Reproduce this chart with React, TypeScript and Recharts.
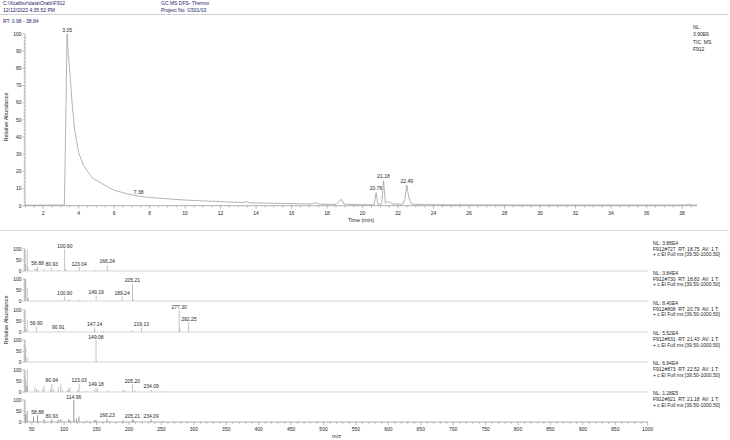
import React from 'react';
import { LineChart, Line, BarChart, Bar, XAxis, YAxis, ReferenceDot, LabelList } from 'recharts';

const FONT = '"Liberation Sans", Arial, Helvetica, sans-serif';
const INK = '#1e1e1e';
const NAVY = '#23236b';
const AXIS = '#8c8c8c';
const TRACE = '#a0a0a0';
const RULE = '#c4c4c4';

// TIC chromatogram (time in min, relative abundance %)
const ticTime = [
  0.98, 2.0, 3.0, 3.2, 3.27, 3.35, 3.42, 3.5, 3.63, 3.78, 4.0, 4.25, 4.5, 4.8, 5.3, 6.0, 6.7, 7.38,
  8.0, 9.0, 10.0, 11.0, 12.0, 12.75, 13.3, 13.45, 13.6, 14.5, 15.5, 16.5, 17.1, 17.35, 17.6, 18.5,
  18.72, 18.82, 18.95, 19.8, 20.65, 20.76, 20.86, 21.08, 21.18, 21.28, 21.45, 21.7, 22.25, 22.38,
  22.49, 22.6, 22.75, 23.5, 23.62, 23.75, 25.4, 25.5, 25.6, 30.0, 36.0, 38.2, 38.35, 38.5, 38.84,
];
const ticAbundance = [
  0.3, 0.3, 0.35, 0.6, 45, 100, 88, 79, 60, 44, 31, 24, 20, 16, 13, 9, 7, 5.6,
  4.8, 4.0, 3.3, 2.8, 2.4, 2.0, 1.9, 2.5, 1.7, 1.5, 1.3, 1.1, 1.0, 1.6, 0.9, 0.7,
  3.0, 3.6, 0.9, 0.6, 0.6, 7.5, 0.8, 0.9, 14.5, 1.5, 2.4, 1.0, 0.8, 3.5,
  12, 5, 0.9, 0.6, 1.0, 0.6, 0.5, 0.8, 0.5, 0.4, 0.4, 0.4, 0.9, 0.4, 0.4,
];
const peakTimes = [3.35, 7.38, 20.76, 21.18, 22.49];
const peakHeights = [100, 5.6, 7.5, 14.5, 12];

const timeLabels = [2, 4, 6, 8, 10, 12, 14, 16, 18, 20, 22, 24, 26, 28, 30, 32, 34, 36, 38];
const abundanceLabels = [0, 10, 20, 30, 40, 50, 60, 70, 80, 90, 100];

// mass spectra: [m/z, relative abundance]
type Pair = [number, number];
const scan727: Pair[] = [
  [40.9, 30], [42.9, 95], [43.9, 22], [54.9, 10], [56.9, 12], [58.88, 20], [68.9, 10], [80.93, 14],
  [90.9, 5], [100.9, 100], [101.9, 8], [123.04, 18], [148.9, 7], [166.24, 28], [167.2, 4],
];
const labels727 = [58.88, 80.93, 100.9, 123.04, 166.24];

const scan730: Pair[] = [
  [40.9, 100], [42.9, 60], [43.9, 15], [44.9, 10], [94.9, 5], [100.9, 20], [106.9, 6], [108.9, 6],
  [122.9, 6], [149.19, 25], [189.24, 22], [205.21, 78], [206.2, 8],
];
const labels730 = [100.9, 149.19, 189.24, 205.21];

const scan808: Pair[] = [
  [40.9, 15], [42.9, 55], [56.9, 25], [90.91, 5], [130.9, 3], [146.1, 4], [147.14, 20], [161.1, 6],
  [204.1, 8], [219.13, 20], [277.3, 100], [278.3, 15], [292.25, 43],
];
const labels808 = [56.9, 90.91, 147.14, 219.13, 277.3, 292.25];

const scan831: Pair[] = [[40.9, 66], [42.9, 20], [149.08, 100], [150.1, 6]];
const labels831 = [149.08];

const scan873: Pair[] = [
  [40.9, 60], [41.9, 25], [42.9, 100], [43.9, 30], [54.9, 20], [56.9, 12], [59.9, 10], [66.9, 12],
  [68.9, 30], [78.9, 12], [80.94, 38], [82.9, 15], [90.9, 20], [94.9, 35], [96.9, 10], [104.9, 8],
  [106.9, 15], [108.9, 20], [120.9, 10], [123.03, 38], [134.9, 5], [146.9, 8], [149.18, 20],
  [151.1, 15], [166.9, 8], [190.9, 10], [192.9, 5], [205.2, 35], [209.1, 8], [234.09, 10], [252.1, 5],
];
const labels873 = [80.94, 123.03, 149.18, 205.2, 234.09];

const scan821: Pair[] = [
  [40.9, 35], [42.9, 50], [52.9, 25], [58.88, 30], [68.9, 12], [80.93, 12], [90.9, 10], [94.9, 12],
  [106.9, 12], [108.9, 8], [114.96, 100], [118.9, 15], [122.9, 25], [134.9, 5], [146.9, 8],
  [149.1, 10], [166.23, 15], [190.9, 8], [205.21, 12], [207.1, 8], [234.09, 12], [252.1, 5],
];
const labels821 = [58.88, 80.93, 114.96, 166.23, 205.21, 234.09];

const scanIds = ['727', '730', '808', '831', '873', '821'];
const scanRts = ['18.75', '18.83', '20.79', '21.43', '22.52', '21.18'];
const scanNl = ['3.88E4', '3.84E4', '8.40E4', '5.52E4', '6.94E4', '1.28E5'];
const mzLabels = [50, 100, 150, 200, 250, 300, 350, 400, 450, 500, 550, 600, 650, 700, 750, 800, 850, 900, 950, 1000];
const spectrumLabels = [0, 50, 100];

const spectra = [scan727, scan730, scan808, scan831, scan873, scan821];
const spectraLabels = [labels727, labels730, labels808, labels831, labels873, labels821];

// tick grids (minor + major)
const range = (a: number, b: number, step: number) => {
  const out: number[] = [];
  for (let v = a; v <= b + 1e-9; v += step) out.push(+v.toFixed(2));
  return out;
};
const timeTicks = range(1, 38.5, 0.5);
const abundanceTicks = range(0, 100, 2);
const mzTicks = range(40, 1000, 10);
const spectrumTicks = range(0, 100, 10);

const has = (list: number[], v: number) => list.some((u) => Math.abs(u - v) < 1e-6);

const makeBottomTick = (labels: number[], len: number) => (props: any) => {
  const { x, y, payload } = props;
  const major = has(labels, payload.value);
  return (
    <g>
      <line x1={x} x2={x} y1={y} y2={y + (major ? len : len * 0.6)} stroke={AXIS} strokeWidth={0.6} />
      {major && (
        <text x={x} y={y + 9} textAnchor="middle" fontSize={5} fill={INK} fontFamily={FONT}>
          {payload.value}
        </text>
      )}
    </g>
  );
};

const makeLeftTick = (labels: number[]) => (props: any) => {
  const { x, y, payload } = props;
  const major = has(labels, payload.value);
  return (
    <g>
      <line x1={x - (major ? 2.5 : 1.5)} x2={x} y1={y} y2={y} stroke={AXIS} strokeWidth={0.6} />
      {major && (
        <text x={x - 3.5} y={y + 1.8} textAnchor="end" fontSize={5} fill={INK} fontFamily={FONT}>
          {payload.value}
        </text>
      )}
    </g>
  );
};

const peakLabel = (p: any) => {
  if (!p.value) return null;
  const x = Number(p.x) + Number(p.width) / 2;
  return (
    <text x={x} y={Number(p.y) - 1.5} textAnchor="middle" fontSize={5} fill={INK} fontFamily={FONT}>
      {p.value}
    </text>
  );
};

const Txt = ({ x, y, size = 5, color = INK, center = false, children }: any) => (
  <div
    style={{
      position: 'absolute',
      left: x,
      top: y - size / 2,
      fontSize: size,
      lineHeight: 1,
      color,
      fontFamily: FONT,
      whiteSpace: 'pre',
      transform: center ? 'translateX(-50%)' : undefined,
    }}
  >
    {children}
  </div>
);

const VTxt = ({ x, y, children }: any) => (
  <div
    style={{
      position: 'absolute',
      left: x,
      top: y,
      fontSize: 5.5,
      lineHeight: 1,
      color: INK,
      fontFamily: FONT,
      whiteSpace: 'pre',
      transform: 'translate(-50%, -50%) rotate(-90deg)',
    }}
  >
    {children}
  </div>
);

const ticData = ticTime.map((t, i) => ({ t, a: ticAbundance[i] }));

const Chromatogram = () => (
  <div style={{ position: 'absolute', left: 0, top: 0 }}>
    <LineChart width={730} height={230} data={ticData} margin={{ top: 34, right: 33, bottom: 0, left: 0 }}>
      <XAxis
        type="number"
        dataKey="t"
        domain={[0.98, 38.84]}
        allowDataOverflow
        ticks={timeTicks}
        interval={0}
        height={24.3}
        tickSize={0}
        tickMargin={0}
        tickLine={false}
        axisLine={{ stroke: AXIS, strokeWidth: 0.7 }}
        tick={makeBottomTick(timeLabels, 3)}
      />
      <YAxis
        type="number"
        domain={[0, 100]}
        allowDataOverflow
        ticks={abundanceTicks}
        interval={0}
        width={25}
        tickSize={0}
        tickMargin={0}
        tickLine={false}
        axisLine={{ stroke: AXIS, strokeWidth: 0.7 }}
        tick={makeLeftTick(abundanceLabels)}
      />
      <Line type="linear" dataKey="a" stroke={TRACE} strokeWidth={0.8} dot={false} isAnimationActive={false} />
      {peakTimes.map((t, i) => (
        <ReferenceDot
          key={t}
          x={t}
          y={peakHeights[i]}
          r={0.5}
          fill="none"
          stroke="none"
          label={{ value: t.toFixed(2), position: 'top', offset: 2, fontSize: 5, fill: INK, fontFamily: FONT }}
        />
      ))}
    </LineChart>
  </div>
);

const Spectrum = ({ index }: { index: number }) => {
  const last = index === spectra.length - 1;
  const labels = spectraLabels[index];
  const data = spectra[index].map(([mz, ab]) => ({
    mz,
    ab,
    label: has(labels, mz) ? mz.toFixed(2) : undefined,
  }));
  const base = 271.3 + index * 30.1;
  return (
    <div style={{ position: 'absolute', left: 0, top: base - 30 }}>
      <BarChart width={730} height={last ? 50 : 34} data={data} margin={{ top: 8, right: 82, bottom: 0, left: 0 }}>
        <XAxis
          type="number"
          dataKey="mz"
          domain={[39.5, 1000.5]}
          allowDataOverflow
          ticks={last ? mzTicks : undefined}
          interval={0}
          height={last ? 20 : 4}
          tickSize={0}
          tickMargin={0}
          tickLine={false}
          axisLine={{ stroke: last ? AXIS : RULE, strokeWidth: 0.7 }}
          tick={last ? makeBottomTick(mzLabels, 3) : false}
        />
        <YAxis
          type="number"
          domain={[0, 100]}
          allowDataOverflow
          ticks={spectrumTicks}
          interval={0}
          width={25}
          tickSize={0}
          tickMargin={0}
          tickLine={false}
          axisLine={{ stroke: AXIS, strokeWidth: 0.7 }}
          tick={makeLeftTick(spectrumLabels)}
        />
        <Bar dataKey="ab" fill="#999" barSize={1} isAnimationActive={false}>
          <LabelList dataKey="label" content={peakLabel} />
        </Bar>
      </BarChart>
    </div>
  );
};

export default function App() {
  return (
    <div
      style={{
        position: 'absolute',
        left: 0,
        top: 0,
        width: 730,
        height: 440,
        background: '#fff',
        overflow: 'hidden',
        fontFamily: FONT,
      }}
    >
      <Txt x={3} y={3.5} color={NAVY}>{'C:\\Xcalibur\\data\\Orabi\\F912'}</Txt>
      <Txt x={3} y={10} color={NAVY}>12/12/2022 4:35:52 PM</Txt>
      <Txt x={161} y={3.5} color={NAVY}>GC MS DFS- Thermo</Txt>
      <Txt x={161} y={10} color={NAVY}>Project No: G501/03</Txt>
      <div style={{ position: 'absolute', left: 0, top: 14, width: 728, height: 1, background: '#cfcfcf' }} />
      <Txt x={3} y={21.5} color={NAVY}>RT: 0.98 - 38.84</Txt>

      <Chromatogram />

      <Txt x={693} y={27.3}>NL:</Txt>
      <Txt x={693} y={34.7}>3.90E6</Txt>
      <Txt x={693} y={42}>TIC  MS</Txt>
      <Txt x={693} y={49.3}>F912</Txt>
      <VTxt x={7} y={117}>Relative Abundance</VTxt>
      <Txt x={361} y={221} size={5.5} center>Time (min)</Txt>

      <div style={{ position: 'absolute', left: 0, top: 230, width: 728, height: 1, background: '#dadada' }} />

      {spectra.map((_, i) => (
        <Spectrum key={scanIds[i]} index={i} />
      ))}
      {scanIds.map((id, i) => {
        const base = 271.3 + i * 30.1;
        return (
          <React.Fragment key={id}>
            <Txt x={653} y={base - 28}>{`NL: ${scanNl[i]}`}</Txt>
            <Txt x={653} y={base - 22.3}>{`F912#${id}  RT: ${scanRts[i]}  AV: 1 T:`}</Txt>
            <Txt x={653} y={base - 16.6}>{'+ c EI Full ms [39.50-1000.50]'}</Txt>
          </React.Fragment>
        );
      })}
      <VTxt x={7} y={320}>Relative Abundance</VTxt>
      <Txt x={336.5} y={436.5} size={5.5} center>m/z</Txt>
    </div>
  );
}
